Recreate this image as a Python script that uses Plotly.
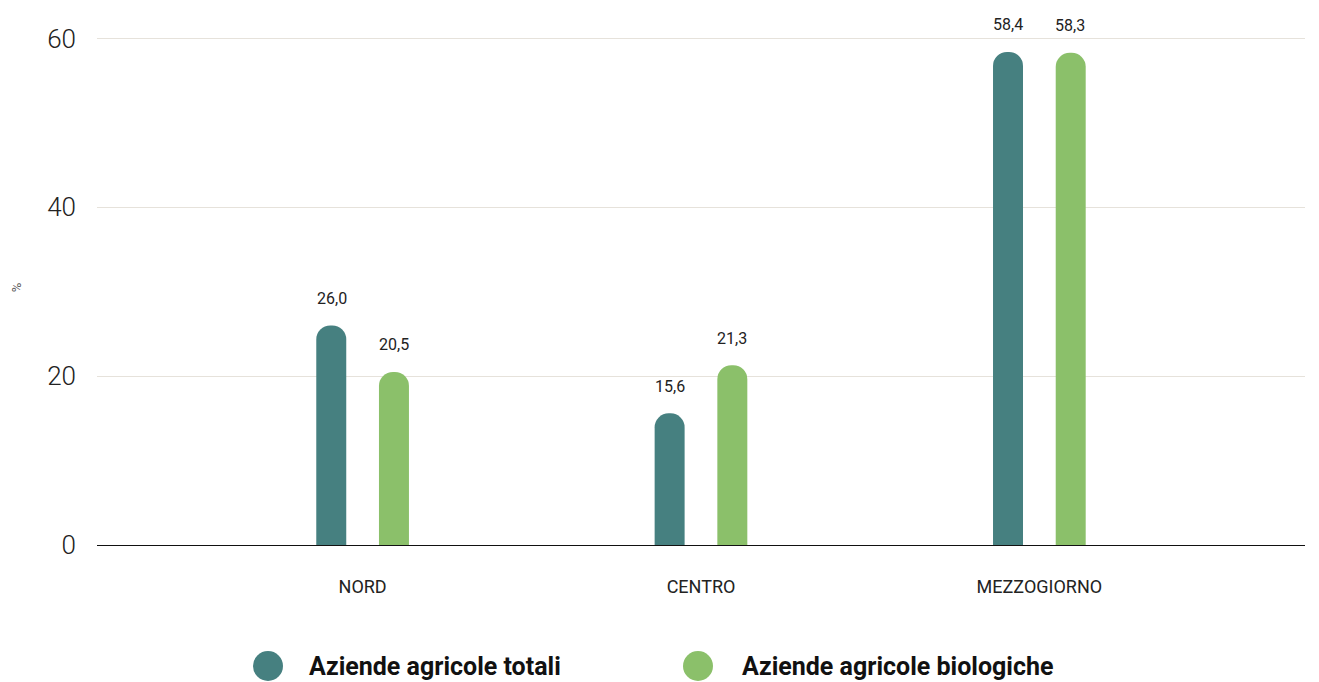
import plotly.graph_objects as go

categories = ["NORD", "CENTRO", "MEZZOGIORNO"]
series_names = ["Aziende agricole totali", "Aziende agricole biologiche"]
totali = [26.0, 15.6, 58.4]
biologiche = [20.5, 21.3, 58.3]
y_ticks = [0, 20, 40, 60]

colors = ["#468080", "#8bc06a"]
values = [totali, biologiche]
offsets = [-0.137, 0.0483]
bar_w = 0.0886
font = "Roboto"

fig = go.Figure()
for name, vals, col, off in zip(series_names, values, colors, offsets):
    fig.add_trace(go.Bar(
        x=categories, y=vals, name=name, marker=dict(color=col, cornerradius=15, line=dict(width=0)),
        width=bar_w, offset=off, showlegend=False, hoverinfo="x+y",
    ))

annotations = []
shifts = [-31, 31]
for vals, sh in zip(values, shifts):
    for c, v in zip(categories, vals):
        annotations.append(dict(
            x=c, y=v, xref="x", yref="y", text=f"{v:.1f}".replace(".", ","),
            showarrow=False, xshift=sh, yshift=27, yanchor="middle",
            font=dict(family=font, size=16, color="#222"),
        ))

# custom legend
leg_x = [268, 698]
leg_text_x = [307, 740]
leg_y = 666
pl_left, pl_right, pl_top, pl_bot = 97, 1305, 30, 545
pw, ph = pl_right - pl_left, pl_bot - pl_top
shapes = []
for name, col, cx, tx in zip(series_names, colors, leg_x, leg_text_x):
    px = (cx - pl_left) / pw
    py = (pl_bot - leg_y) / ph
    shapes.append(dict(type="circle", xref="paper", yref="paper", xsizemode="pixel", ysizemode="pixel",
                       xanchor=px, yanchor=py, x0=-15, x1=15, y0=-15, y1=15,
                       fillcolor=col, line=dict(width=0)))
    annotations.append(dict(
        x=(tx - pl_left) / pw, y=py, xref="paper", yref="paper", text=f"<b>{name}</b>",
        showarrow=False, xanchor="left", yanchor="middle",
        font=dict(family=font, size=25, color="#111"),
    ))

fig.update_layout(
    width=1319, height=682,
    margin=dict(l=pl_left, r=1319 - pl_right, t=pl_top, b=682 - pl_bot),
    plot_bgcolor="white", paper_bgcolor="white",
    barmode="group", showlegend=False,
    annotations=annotations, shapes=shapes,
    font=dict(family=font, color="#222"),
    xaxis=dict(type="category", range=[-0.785, 2.785], showline=True, linecolor="#111", linewidth=1,
               ticks="", showgrid=False, ticklabelstandoff=25,
               tickfont=dict(family=font, size=18, color="#222")),
    yaxis=dict(range=[0, 61], tickvals=y_ticks, showgrid=True, gridcolor="#e6e2db", gridwidth=1,
               zeroline=False, showline=False, ticks="", ticklabelstandoff=20,
               tickfont=dict(family=font, size=26, color="#222", weight=300),
               title=dict(text="%", font=dict(family=font, size=13, color="#555"), standoff=22)),
)

fig.write_html("out.html", config={"displayModeBar": False},
               post_script="document.body.style.margin='0';document.body.style.overflow='hidden';")
